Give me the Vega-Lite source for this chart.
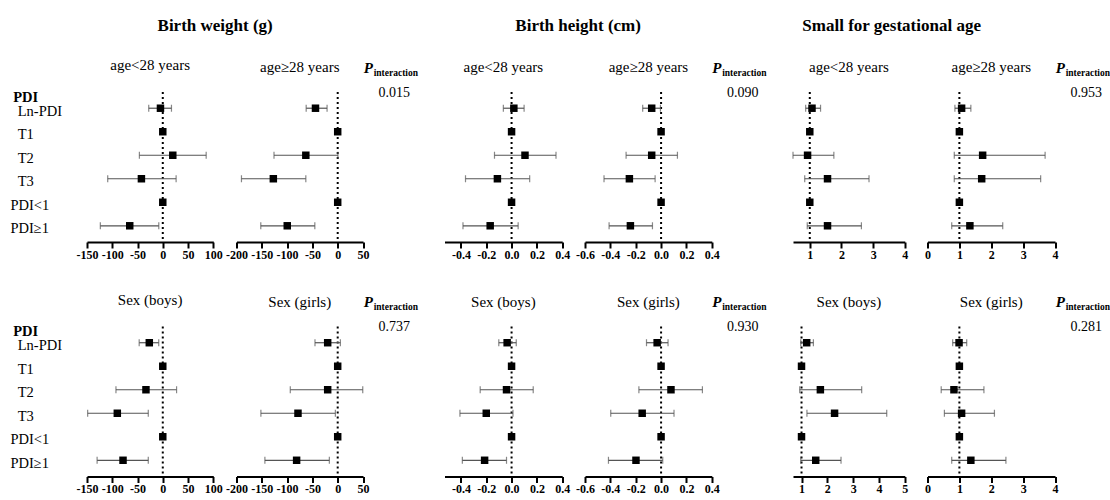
{
  "$schema": "https://vega.github.io/schema/vega-lite/v6.json",
  "padding": {"left": 10, "top": 16, "right": 0, "bottom": 2},
  "config": {
    "view": {"stroke": null},
    "font": "Liberation Serif",
    "title": {"font": "Liberation Serif", "fontSize": 15, "fontWeight": "normal", "color": "black", "offset": 16, "anchor": "middle", "frame": "group"},
    "text": {"font": "Liberation Serif"},
    "axis": {"labelFont": "Liberation Serif", "titleFont": "Liberation Serif", "labelOverlap": false, "labelBound": false},
    "axisQuantitative": {"labelOverlap": false},
    "axisBottom": {"labelOverlap": false},
    "axisX": {"domainColor": "black", "domainWidth": 2, "tickColor": "black", "tickWidth": 2, "tickSize": 6, "labelFontWeight": "bold", "labelFontSize": 12, "labelColor": "black", "labelPadding": 1, "labelFlush": false, "labelOverlap": false, "grid": false}
  },
  "datasets": {
    "forest": [
      {"panel": "BW|age<28", "row": "Ln-PDI", "est": -4.6, "lo": -27.8, "hi": 17.2},
      {"panel": "BW|age<28", "row": "T1", "est": 0},
      {"panel": "BW|age<28", "row": "T2", "est": 19.8, "lo": -46.3, "hi": 85.9},
      {"panel": "BW|age<28", "row": "T3", "est": -42.3, "lo": -109, "hi": 26.4},
      {"panel": "BW|age<28", "row": "PDI<1", "est": 0},
      {"panel": "BW|age<28", "row": "PDI≥1", "est": -65.4, "lo": -123.6, "hi": -7.9},
      {"panel": "BW|age≥28", "row": "Ln-PDI", "est": -43.9, "lo": -62.3, "hi": -21},
      {"panel": "BW|age≥28", "row": "T1", "est": 0},
      {"panel": "BW|age≥28", "row": "T2", "est": -63, "lo": -125.9, "hi": 0.5},
      {"panel": "BW|age≥28", "row": "T3", "est": -127.2, "lo": -190.2, "hi": -63},
      {"panel": "BW|age≥28", "row": "PDI<1", "est": 0},
      {"panel": "BW|age≥28", "row": "PDI≥1", "est": -99.7, "lo": -152, "hi": -45.2},
      {"panel": "BH|age<28", "row": "Ln-PDI", "est": 0.018, "lo": -0.065, "hi": 0.099},
      {"panel": "BH|age<28", "row": "T1", "est": 0},
      {"panel": "BH|age<28", "row": "T2", "est": 0.106, "lo": -0.135, "hi": 0.351},
      {"panel": "BH|age<28", "row": "T3", "est": -0.112, "lo": -0.364, "hi": 0.143},
      {"panel": "BH|age<28", "row": "PDI<1", "est": 0},
      {"panel": "BH|age<28", "row": "PDI≥1", "est": -0.169, "lo": -0.384, "hi": 0.052},
      {"panel": "BH|age≥28", "row": "Ln-PDI", "est": -0.074, "lo": -0.145, "hi": -0.005},
      {"panel": "BH|age≥28", "row": "T1", "est": 0},
      {"panel": "BH|age≥28", "row": "T2", "est": -0.074, "lo": -0.276, "hi": 0.129},
      {"panel": "BH|age≥28", "row": "T3", "est": -0.25, "lo": -0.45, "hi": -0.047},
      {"panel": "BH|age≥28", "row": "PDI<1", "est": 0},
      {"panel": "BH|age≥28", "row": "PDI≥1", "est": -0.242, "lo": -0.41, "hi": -0.068},
      {"panel": "SGA|age<28", "row": "Ln-PDI", "est": 1.07, "lo": 0.87, "hi": 1.34},
      {"panel": "SGA|age<28", "row": "T1", "est": 1},
      {"panel": "SGA|age<28", "row": "T2", "est": 0.93, "lo": 0.47, "hi": 1.76},
      {"panel": "SGA|age<28", "row": "T3", "est": 1.56, "lo": 0.84, "hi": 2.87},
      {"panel": "SGA|age<28", "row": "PDI<1", "est": 1},
      {"panel": "SGA|age<28", "row": "PDI≥1", "est": 1.56, "lo": 0.92, "hi": 2.63},
      {"panel": "SGA|age≥28", "row": "Ln-PDI", "est": 1.07, "lo": 0.86, "hi": 1.36},
      {"panel": "SGA|age≥28", "row": "T1", "est": 1},
      {"panel": "SGA|age≥28", "row": "T2", "est": 1.73, "lo": 0.84, "hi": 3.69},
      {"panel": "SGA|age≥28", "row": "T3", "est": 1.7, "lo": 0.84, "hi": 3.55},
      {"panel": "SGA|age≥28", "row": "PDI<1", "est": 1},
      {"panel": "SGA|age≥28", "row": "PDI≥1", "est": 1.33, "lo": 0.76, "hi": 2.36},
      {"panel": "BW|boys", "row": "Ln-PDI", "est": -26.7, "lo": -46.7, "hi": -8},
      {"panel": "BW|boys", "row": "T1", "est": 0},
      {"panel": "BW|boys", "row": "T2", "est": -33.3, "lo": -92.7, "hi": 27.3},
      {"panel": "BW|boys", "row": "T3", "est": -90, "lo": -148.7, "hi": -28.7},
      {"panel": "BW|boys", "row": "PDI<1", "est": 0},
      {"panel": "BW|boys", "row": "PDI≥1", "est": -78.7, "lo": -130, "hi": -28.7},
      {"panel": "BW|girls", "row": "Ln-PDI", "est": -19.8, "lo": -44.9, "hi": 5.3},
      {"panel": "BW|girls", "row": "T1", "est": 0},
      {"panel": "BW|girls", "row": "T2", "est": -19.8, "lo": -93.7, "hi": 49.5},
      {"panel": "BW|girls", "row": "T3", "est": -78.5, "lo": -151.8, "hi": -4.6},
      {"panel": "BW|girls", "row": "PDI<1", "est": 0},
      {"panel": "BW|girls", "row": "PDI≥1", "est": -81.2, "lo": -143.9, "hi": -16.5},
      {"panel": "BH|boys", "row": "Ln-PDI", "est": -0.035, "lo": -0.101, "hi": 0.037},
      {"panel": "BH|boys", "row": "T1", "est": 0},
      {"panel": "BH|boys", "row": "T2", "est": -0.04, "lo": -0.248, "hi": 0.171},
      {"panel": "BH|boys", "row": "T3", "est": -0.2, "lo": -0.408, "hi": 0.011},
      {"panel": "BH|boys", "row": "PDI<1", "est": 0},
      {"panel": "BH|boys", "row": "PDI≥1", "est": -0.213, "lo": -0.389, "hi": -0.04},
      {"panel": "BH|girls", "row": "Ln-PDI", "est": -0.031, "lo": -0.115, "hi": 0.055},
      {"panel": "BH|girls", "row": "T1", "est": 0},
      {"panel": "BH|girls", "row": "T2", "est": 0.078, "lo": -0.175, "hi": 0.326},
      {"panel": "BH|girls", "row": "T3", "est": -0.149, "lo": -0.397, "hi": 0.102},
      {"panel": "BH|girls", "row": "PDI<1", "est": 0},
      {"panel": "BH|girls", "row": "PDI≥1", "est": -0.198, "lo": -0.415, "hi": 0.013},
      {"panel": "SGA|boys", "row": "Ln-PDI", "est": 1.2, "lo": 0.97, "hi": 1.46},
      {"panel": "SGA|boys", "row": "T1", "est": 1},
      {"panel": "SGA|boys", "row": "T2", "est": 1.73, "lo": 0.93, "hi": 3.33},
      {"panel": "SGA|boys", "row": "T3", "est": 2.28, "lo": 1.21, "hi": 4.3},
      {"panel": "SGA|boys", "row": "PDI<1", "est": 1},
      {"panel": "SGA|boys", "row": "PDI≥1", "est": 1.55, "lo": 0.97, "hi": 2.53},
      {"panel": "SGA|girls", "row": "Ln-PDI", "est": 0.99, "lo": 0.79, "hi": 1.23},
      {"panel": "SGA|girls", "row": "T1", "est": 1},
      {"panel": "SGA|girls", "row": "T2", "est": 0.83, "lo": 0.43, "hi": 1.77},
      {"panel": "SGA|girls", "row": "T3", "est": 1.07, "lo": 0.53, "hi": 2.1},
      {"panel": "SGA|girls", "row": "PDI<1", "est": 1},
      {"panel": "SGA|girls", "row": "PDI≥1", "est": 1.36, "lo": 0.76, "hi": 2.46}
    ]
  },
  "columns": 9,
  "align": "each",
  "bounds": "flush",
  "spacing": {"row": 84.5, "column": 22.5},
  "concat": [
    {
      "width": 126.3, "height": 150,
      "title": {"text": "age<28 years"},
      "layer": [
        {"data": {"values": [{"ref": 0}]}, "mark": {"type": "rule", "color": "black", "strokeWidth": 2, "strokeDash": [2, 3]},
         "encoding": {"x": {"field": "ref", "type": "quantitative", "title": null, "scale": {"domain": [-150, 100], "nice": false, "zero": false}, "axis": {"values": [-150, -100, -50, 0, 50, 100], "labelOverlap": false, "labelExpr": "(datum.value < 0 ? '-' : '') + format(abs(datum.value), 'd')"}}}},
        {"data": {"name": "forest"}, "transform": [{"filter": "datum.panel === 'BW|age<28'"}],
         "encoding": {"y": {"field": "row", "type": "nominal", "scale": {"type": "point", "domain": ["Ln-PDI", "T1", "T2", "T3", "PDI<1", "PDI≥1"], "padding": 0.69},
           "axis": {"domain": false, "ticks": false, "tickSize": 0, "labelAlign": "left", "labelBaseline": "middle", "labelPadding": 77, "labelOffset": 3, "labelFontSize": 14.5, "labelColor": "black", "labelExpr": "(datum.value == 'PDI<1' || datum.value == 'PDI≥1') ? datum.value : '\u200b\u00a0\u00a0' + datum.value", "title": "PDI", "titleAngle": 0, "titleAlign": "left", "titleBaseline": "middle", "titleX": -74.3, "titleY": 5, "titleFontWeight": "bold", "titleFontSize": 14.5, "titleColor": "black"}}},
         "layer": [
           {"transform": [{"filter": "isValid(datum.lo)"}], "mark": {"type": "rule", "color": "#555", "strokeWidth": 1.2}, "encoding": {"x": {"field": "lo", "type": "quantitative", "title": null, "scale": {"domain": [-150, 100], "nice": false, "zero": false}, "axis": {"values": [-150, -100, -50, 0, 50, 100], "labelOverlap": false, "labelExpr": "(datum.value < 0 ? '-' : '') + format(abs(datum.value), 'd')"}}, "x2": {"field": "hi"}}},
           {"transform": [{"filter": "isValid(datum.lo)"}], "mark": {"type": "tick", "orient": "vertical", "color": "#555", "thickness": 1.2, "size": 7}, "encoding": {"x": {"field": "lo", "type": "quantitative", "title": null, "scale": {"domain": [-150, 100], "nice": false, "zero": false}, "axis": {"values": [-150, -100, -50, 0, 50, 100], "labelOverlap": false, "labelExpr": "(datum.value < 0 ? '-' : '') + format(abs(datum.value), 'd')"}}}},
           {"transform": [{"filter": "isValid(datum.hi)"}], "mark": {"type": "tick", "orient": "vertical", "color": "#555", "thickness": 1.2, "size": 7}, "encoding": {"x": {"field": "hi", "type": "quantitative", "title": null, "scale": {"domain": [-150, 100], "nice": false, "zero": false}, "axis": {"values": [-150, -100, -50, 0, 50, 100], "labelOverlap": false, "labelExpr": "(datum.value < 0 ? '-' : '') + format(abs(datum.value), 'd')"}}}},
           {"mark": {"type": "square", "color": "black", "filled": true, "opacity": 1, "size": 56}, "encoding": {"x": {"field": "est", "type": "quantitative", "title": null, "scale": {"domain": [-150, 100], "nice": false, "zero": false}, "axis": {"values": [-150, -100, -50, 0, 50, 100], "labelOverlap": false, "labelExpr": "(datum.value < 0 ? '-' : '') + format(abs(datum.value), 'd')"}}}}
         ]}
      ]
    },
    {
      "width": 126.5, "height": 150,
      "title": {"text": "age≥28 years"},
      "layer": [
        {"data": {"values": [{"ref": 0}]}, "mark": {"type": "rule", "color": "black", "strokeWidth": 2, "strokeDash": [2, 3]},
         "encoding": {"x": {"field": "ref", "type": "quantitative", "title": null, "scale": {"domain": [-200, 50], "nice": false, "zero": false}, "axis": {"values": [-200, -150, -100, -50, 0, 50], "labelOverlap": false, "labelExpr": "(datum.value < 0 ? '-' : '') + format(abs(datum.value), 'd')"}}}},
        {"data": {"name": "forest"}, "transform": [{"filter": "datum.panel === 'BW|age≥28'"}],
         "encoding": {"y": {"field": "row", "type": "nominal", "scale": {"type": "point", "domain": ["Ln-PDI", "T1", "T2", "T3", "PDI<1", "PDI≥1"], "padding": 0.69}, "axis": null}},
         "layer": [
           {"transform": [{"filter": "isValid(datum.lo)"}], "mark": {"type": "rule", "color": "#555", "strokeWidth": 1.2}, "encoding": {"x": {"field": "lo", "type": "quantitative", "title": null, "scale": {"domain": [-200, 50], "nice": false, "zero": false}, "axis": {"values": [-200, -150, -100, -50, 0, 50], "labelOverlap": false, "labelExpr": "(datum.value < 0 ? '-' : '') + format(abs(datum.value), 'd')"}}, "x2": {"field": "hi"}}},
           {"transform": [{"filter": "isValid(datum.lo)"}], "mark": {"type": "tick", "orient": "vertical", "color": "#555", "thickness": 1.2, "size": 7}, "encoding": {"x": {"field": "lo", "type": "quantitative", "title": null, "scale": {"domain": [-200, 50], "nice": false, "zero": false}, "axis": {"values": [-200, -150, -100, -50, 0, 50], "labelOverlap": false, "labelExpr": "(datum.value < 0 ? '-' : '') + format(abs(datum.value), 'd')"}}}},
           {"transform": [{"filter": "isValid(datum.hi)"}], "mark": {"type": "tick", "orient": "vertical", "color": "#555", "thickness": 1.2, "size": 7}, "encoding": {"x": {"field": "hi", "type": "quantitative", "title": null, "scale": {"domain": [-200, 50], "nice": false, "zero": false}, "axis": {"values": [-200, -150, -100, -50, 0, 50], "labelOverlap": false, "labelExpr": "(datum.value < 0 ? '-' : '') + format(abs(datum.value), 'd')"}}}},
           {"mark": {"type": "square", "color": "black", "filled": true, "opacity": 1, "size": 56}, "encoding": {"x": {"field": "est", "type": "quantitative", "title": null, "scale": {"domain": [-200, 50], "nice": false, "zero": false}, "axis": {"values": [-200, -150, -100, -50, 0, 50], "labelOverlap": false, "labelExpr": "(datum.value < 0 ? '-' : '') + format(abs(datum.value), 'd')"}}}}
         ]}
      ]
    },
    {
      "width": 35.3, "height": 1,
      "title": {"text": "Birth weight (g)", "fontSize": 17, "fontWeight": "bold", "dx": -188.5, "offset": 26},
      "data": {"values": [{"p": "0.015"}]},
      "layer": [
        {"mark": {"type": "text", "align": "center", "baseline": "middle", "dx": -9.5, "fontSize": 14, "color": "black", "font": "Liberation Serif"}, "encoding": {"text": {"field": "p", "type": "nominal"}}},
        {"mark": {"type": "text", "text": "P", "align": "left", "baseline": "middle", "dx": -40, "dy": -25, "fontSize": 15, "fontWeight": "bold", "fontStyle": "italic", "color": "black", "font": "Liberation Serif"}, "encoding": {}},
        {"mark": {"type": "text", "text": "interaction", "align": "left", "baseline": "middle", "dx": -30, "dy": -20, "fontSize": 9.5, "fontWeight": "bold", "color": "black", "font": "Liberation Serif"}, "encoding": {}}
      ]
    },
    {
      "width": 117.7, "height": 150,
      "title": {"text": "age<28 years"},
      "layer": [
        {"data": {"values": [{"ref": 0}]}, "mark": {"type": "rule", "color": "black", "strokeWidth": 2, "strokeDash": [2, 3]},
         "encoding": {"x": {"field": "ref", "type": "quantitative", "title": null, "scale": {"domain": [-0.53, 0.4], "nice": false, "zero": false}, "axis": {"values": [-0.4, -0.2, 0, 0.2, 0.4], "labelOverlap": false, "labelExpr": "(datum.value < 0 ? '-' : '') + format(abs(datum.value), '.1f')"}}}},
        {"data": {"name": "forest"}, "transform": [{"filter": "datum.panel === 'BH|age<28'"}],
         "encoding": {"y": {"field": "row", "type": "nominal", "scale": {"type": "point", "domain": ["Ln-PDI", "T1", "T2", "T3", "PDI<1", "PDI≥1"], "padding": 0.69}, "axis": null}},
         "layer": [
           {"transform": [{"filter": "isValid(datum.lo)"}], "mark": {"type": "rule", "color": "#555", "strokeWidth": 1.2}, "encoding": {"x": {"field": "lo", "type": "quantitative", "title": null, "scale": {"domain": [-0.53, 0.4], "nice": false, "zero": false}, "axis": {"values": [-0.4, -0.2, 0, 0.2, 0.4], "labelOverlap": false, "labelExpr": "(datum.value < 0 ? '-' : '') + format(abs(datum.value), '.1f')"}}, "x2": {"field": "hi"}}},
           {"transform": [{"filter": "isValid(datum.lo)"}], "mark": {"type": "tick", "orient": "vertical", "color": "#555", "thickness": 1.2, "size": 7}, "encoding": {"x": {"field": "lo", "type": "quantitative", "title": null, "scale": {"domain": [-0.53, 0.4], "nice": false, "zero": false}, "axis": {"values": [-0.4, -0.2, 0, 0.2, 0.4], "labelOverlap": false, "labelExpr": "(datum.value < 0 ? '-' : '') + format(abs(datum.value), '.1f')"}}}},
           {"transform": [{"filter": "isValid(datum.hi)"}], "mark": {"type": "tick", "orient": "vertical", "color": "#555", "thickness": 1.2, "size": 7}, "encoding": {"x": {"field": "hi", "type": "quantitative", "title": null, "scale": {"domain": [-0.53, 0.4], "nice": false, "zero": false}, "axis": {"values": [-0.4, -0.2, 0, 0.2, 0.4], "labelOverlap": false, "labelExpr": "(datum.value < 0 ? '-' : '') + format(abs(datum.value), '.1f')"}}}},
           {"mark": {"type": "square", "color": "black", "filled": true, "opacity": 1, "size": 56}, "encoding": {"x": {"field": "est", "type": "quantitative", "title": null, "scale": {"domain": [-0.53, 0.4], "nice": false, "zero": false}, "axis": {"values": [-0.4, -0.2, 0, 0.2, 0.4], "labelOverlap": false, "labelExpr": "(datum.value < 0 ? '-' : '') + format(abs(datum.value), '.1f')"}}}}
         ]}
      ]
    },
    {
      "width": 126.8, "height": 150,
      "title": {"text": "age≥28 years"},
      "layer": [
        {"data": {"values": [{"ref": 0}]}, "mark": {"type": "rule", "color": "black", "strokeWidth": 2, "strokeDash": [2, 3]},
         "encoding": {"x": {"field": "ref", "type": "quantitative", "title": null, "scale": {"domain": [-0.6, 0.4], "nice": false, "zero": false}, "axis": {"values": [-0.6, -0.4, -0.2, 0, 0.2, 0.4], "labelOverlap": false, "labelExpr": "(datum.value < 0 ? '-' : '') + format(abs(datum.value), '.1f')"}}}},
        {"data": {"name": "forest"}, "transform": [{"filter": "datum.panel === 'BH|age≥28'"}],
         "encoding": {"y": {"field": "row", "type": "nominal", "scale": {"type": "point", "domain": ["Ln-PDI", "T1", "T2", "T3", "PDI<1", "PDI≥1"], "padding": 0.69}, "axis": null}},
         "layer": [
           {"transform": [{"filter": "isValid(datum.lo)"}], "mark": {"type": "rule", "color": "#555", "strokeWidth": 1.2}, "encoding": {"x": {"field": "lo", "type": "quantitative", "title": null, "scale": {"domain": [-0.6, 0.4], "nice": false, "zero": false}, "axis": {"values": [-0.6, -0.4, -0.2, 0, 0.2, 0.4], "labelOverlap": false, "labelExpr": "(datum.value < 0 ? '-' : '') + format(abs(datum.value), '.1f')"}}, "x2": {"field": "hi"}}},
           {"transform": [{"filter": "isValid(datum.lo)"}], "mark": {"type": "tick", "orient": "vertical", "color": "#555", "thickness": 1.2, "size": 7}, "encoding": {"x": {"field": "lo", "type": "quantitative", "title": null, "scale": {"domain": [-0.6, 0.4], "nice": false, "zero": false}, "axis": {"values": [-0.6, -0.4, -0.2, 0, 0.2, 0.4], "labelOverlap": false, "labelExpr": "(datum.value < 0 ? '-' : '') + format(abs(datum.value), '.1f')"}}}},
           {"transform": [{"filter": "isValid(datum.hi)"}], "mark": {"type": "tick", "orient": "vertical", "color": "#555", "thickness": 1.2, "size": 7}, "encoding": {"x": {"field": "hi", "type": "quantitative", "title": null, "scale": {"domain": [-0.6, 0.4], "nice": false, "zero": false}, "axis": {"values": [-0.6, -0.4, -0.2, 0, 0.2, 0.4], "labelOverlap": false, "labelExpr": "(datum.value < 0 ? '-' : '') + format(abs(datum.value), '.1f')"}}}},
           {"mark": {"type": "square", "color": "black", "filled": true, "opacity": 1, "size": 56}, "encoding": {"x": {"field": "est", "type": "quantitative", "title": null, "scale": {"domain": [-0.6, 0.4], "nice": false, "zero": false}, "axis": {"values": [-0.6, -0.4, -0.2, 0, 0.2, 0.4], "labelOverlap": false, "labelExpr": "(datum.value < 0 ? '-' : '') + format(abs(datum.value), '.1f')"}}}}
         ]}
      ]
    },
    {
      "width": 35.3, "height": 1,
      "title": {"text": "Birth height (cm)", "fontSize": 17, "fontWeight": "bold", "dx": -174, "offset": 26},
      "data": {"values": [{"p": "0.090"}]},
      "layer": [
        {"mark": {"type": "text", "align": "center", "baseline": "middle", "dx": -9.5, "fontSize": 14, "color": "black", "font": "Liberation Serif"}, "encoding": {"text": {"field": "p", "type": "nominal"}}},
        {"mark": {"type": "text", "text": "P", "align": "left", "baseline": "middle", "dx": -40, "dy": -25, "fontSize": 15, "fontWeight": "bold", "fontStyle": "italic", "color": "black", "font": "Liberation Serif"}, "encoding": {}},
        {"mark": {"type": "text", "text": "interaction", "align": "left", "baseline": "middle", "dx": -30, "dy": -20, "fontSize": 9.5, "fontWeight": "bold", "color": "black", "font": "Liberation Serif"}, "encoding": {}}
      ]
    },
    {
      "width": 111.8, "height": 150,
      "title": {"text": "age<28 years"},
      "layer": [
        {"data": {"values": [{"ref": 1}]}, "mark": {"type": "rule", "color": "black", "strokeWidth": 2, "strokeDash": [2, 3]},
         "encoding": {"x": {"field": "ref", "type": "quantitative", "title": null, "scale": {"domain": [0.47, 4], "nice": false, "zero": false}, "axis": {"values": [1, 2, 3, 4], "labelOverlap": false, "format": "d"}}}},
        {"data": {"name": "forest"}, "transform": [{"filter": "datum.panel === 'SGA|age<28'"}],
         "encoding": {"y": {"field": "row", "type": "nominal", "scale": {"type": "point", "domain": ["Ln-PDI", "T1", "T2", "T3", "PDI<1", "PDI≥1"], "padding": 0.69}, "axis": null}},
         "layer": [
           {"transform": [{"filter": "isValid(datum.lo)"}], "mark": {"type": "rule", "color": "#555", "strokeWidth": 1.2}, "encoding": {"x": {"field": "lo", "type": "quantitative", "title": null, "scale": {"domain": [0.47, 4], "nice": false, "zero": false}, "axis": {"values": [1, 2, 3, 4], "labelOverlap": false, "format": "d"}}, "x2": {"field": "hi"}}},
           {"transform": [{"filter": "isValid(datum.lo)"}], "mark": {"type": "tick", "orient": "vertical", "color": "#555", "thickness": 1.2, "size": 7}, "encoding": {"x": {"field": "lo", "type": "quantitative", "title": null, "scale": {"domain": [0.47, 4], "nice": false, "zero": false}, "axis": {"values": [1, 2, 3, 4], "labelOverlap": false, "format": "d"}}}},
           {"transform": [{"filter": "isValid(datum.hi)"}], "mark": {"type": "tick", "orient": "vertical", "color": "#555", "thickness": 1.2, "size": 7}, "encoding": {"x": {"field": "hi", "type": "quantitative", "title": null, "scale": {"domain": [0.47, 4], "nice": false, "zero": false}, "axis": {"values": [1, 2, 3, 4], "labelOverlap": false, "format": "d"}}}},
           {"mark": {"type": "square", "color": "black", "filled": true, "opacity": 1, "size": 56}, "encoding": {"x": {"field": "est", "type": "quantitative", "title": null, "scale": {"domain": [0.47, 4], "nice": false, "zero": false}, "axis": {"values": [1, 2, 3, 4], "labelOverlap": false, "format": "d"}}}}
         ]}
      ]
    },
    {
      "width": 127.5, "height": 150,
      "title": {"text": "age≥28 years"},
      "layer": [
        {"data": {"values": [{"ref": 1}]}, "mark": {"type": "rule", "color": "black", "strokeWidth": 2, "strokeDash": [2, 3]},
         "encoding": {"x": {"field": "ref", "type": "quantitative", "title": null, "scale": {"domain": [0, 4], "nice": false, "zero": false}, "axis": {"values": [0, 1, 2, 3, 4], "labelOverlap": false, "format": "d"}}}},
        {"data": {"name": "forest"}, "transform": [{"filter": "datum.panel === 'SGA|age≥28'"}],
         "encoding": {"y": {"field": "row", "type": "nominal", "scale": {"type": "point", "domain": ["Ln-PDI", "T1", "T2", "T3", "PDI<1", "PDI≥1"], "padding": 0.69}, "axis": null}},
         "layer": [
           {"transform": [{"filter": "isValid(datum.lo)"}], "mark": {"type": "rule", "color": "#555", "strokeWidth": 1.2}, "encoding": {"x": {"field": "lo", "type": "quantitative", "title": null, "scale": {"domain": [0, 4], "nice": false, "zero": false}, "axis": {"values": [0, 1, 2, 3, 4], "labelOverlap": false, "format": "d"}}, "x2": {"field": "hi"}}},
           {"transform": [{"filter": "isValid(datum.lo)"}], "mark": {"type": "tick", "orient": "vertical", "color": "#555", "thickness": 1.2, "size": 7}, "encoding": {"x": {"field": "lo", "type": "quantitative", "title": null, "scale": {"domain": [0, 4], "nice": false, "zero": false}, "axis": {"values": [0, 1, 2, 3, 4], "labelOverlap": false, "format": "d"}}}},
           {"transform": [{"filter": "isValid(datum.hi)"}], "mark": {"type": "tick", "orient": "vertical", "color": "#555", "thickness": 1.2, "size": 7}, "encoding": {"x": {"field": "hi", "type": "quantitative", "title": null, "scale": {"domain": [0, 4], "nice": false, "zero": false}, "axis": {"values": [0, 1, 2, 3, 4], "labelOverlap": false, "format": "d"}}}},
           {"mark": {"type": "square", "color": "black", "filled": true, "opacity": 1, "size": 56}, "encoding": {"x": {"field": "est", "type": "quantitative", "title": null, "scale": {"domain": [0, 4], "nice": false, "zero": false}, "axis": {"values": [0, 1, 2, 3, 4], "labelOverlap": false, "format": "d"}}}}
         ]}
      ]
    },
    {
      "width": 35.3, "height": 1,
      "title": {"text": "Small for gestational age", "fontSize": 17, "fontWeight": "bold", "dx": -204, "offset": 26},
      "data": {"values": [{"p": "0.953"}]},
      "layer": [
        {"mark": {"type": "text", "align": "center", "baseline": "middle", "dx": -9.5, "fontSize": 14, "color": "black", "font": "Liberation Serif"}, "encoding": {"text": {"field": "p", "type": "nominal"}}},
        {"mark": {"type": "text", "text": "P", "align": "left", "baseline": "middle", "dx": -40, "dy": -25, "fontSize": 15, "fontWeight": "bold", "fontStyle": "italic", "color": "black", "font": "Liberation Serif"}, "encoding": {}},
        {"mark": {"type": "text", "text": "interaction", "align": "left", "baseline": "middle", "dx": -30, "dy": -20, "fontSize": 9.5, "fontWeight": "bold", "color": "black", "font": "Liberation Serif"}, "encoding": {}}
      ]
    },
    {
      "width": 126.3, "height": 150,
      "title": {"text": "Sex (boys)"},
      "layer": [
        {"data": {"values": [{"ref": 0}]}, "mark": {"type": "rule", "color": "black", "strokeWidth": 2, "strokeDash": [2, 3]},
         "encoding": {"x": {"field": "ref", "type": "quantitative", "title": null, "scale": {"domain": [-150, 100], "nice": false, "zero": false}, "axis": {"values": [-150, -100, -50, 0, 50, 100], "labelOverlap": false, "labelExpr": "(datum.value < 0 ? '-' : '') + format(abs(datum.value), 'd')"}}}},
        {"data": {"name": "forest"}, "transform": [{"filter": "datum.panel === 'BW|boys'"}],
         "encoding": {"y": {"field": "row", "type": "nominal", "scale": {"type": "point", "domain": ["Ln-PDI", "T1", "T2", "T3", "PDI<1", "PDI≥1"], "padding": 0.69},
           "axis": {"domain": false, "ticks": false, "tickSize": 0, "labelAlign": "left", "labelBaseline": "middle", "labelPadding": 77, "labelOffset": 3, "labelFontSize": 14.5, "labelColor": "black", "labelExpr": "(datum.value == 'PDI<1' || datum.value == 'PDI≥1') ? datum.value : '\u200b\u00a0\u00a0' + datum.value", "title": "PDI", "titleAngle": 0, "titleAlign": "left", "titleBaseline": "middle", "titleX": -74.3, "titleY": 5, "titleFontWeight": "bold", "titleFontSize": 14.5, "titleColor": "black"}}},
         "layer": [
           {"transform": [{"filter": "isValid(datum.lo)"}], "mark": {"type": "rule", "color": "#555", "strokeWidth": 1.2}, "encoding": {"x": {"field": "lo", "type": "quantitative", "title": null, "scale": {"domain": [-150, 100], "nice": false, "zero": false}, "axis": {"values": [-150, -100, -50, 0, 50, 100], "labelOverlap": false, "labelExpr": "(datum.value < 0 ? '-' : '') + format(abs(datum.value), 'd')"}}, "x2": {"field": "hi"}}},
           {"transform": [{"filter": "isValid(datum.lo)"}], "mark": {"type": "tick", "orient": "vertical", "color": "#555", "thickness": 1.2, "size": 7}, "encoding": {"x": {"field": "lo", "type": "quantitative", "title": null, "scale": {"domain": [-150, 100], "nice": false, "zero": false}, "axis": {"values": [-150, -100, -50, 0, 50, 100], "labelOverlap": false, "labelExpr": "(datum.value < 0 ? '-' : '') + format(abs(datum.value), 'd')"}}}},
           {"transform": [{"filter": "isValid(datum.hi)"}], "mark": {"type": "tick", "orient": "vertical", "color": "#555", "thickness": 1.2, "size": 7}, "encoding": {"x": {"field": "hi", "type": "quantitative", "title": null, "scale": {"domain": [-150, 100], "nice": false, "zero": false}, "axis": {"values": [-150, -100, -50, 0, 50, 100], "labelOverlap": false, "labelExpr": "(datum.value < 0 ? '-' : '') + format(abs(datum.value), 'd')"}}}},
           {"mark": {"type": "square", "color": "black", "filled": true, "opacity": 1, "size": 56}, "encoding": {"x": {"field": "est", "type": "quantitative", "title": null, "scale": {"domain": [-150, 100], "nice": false, "zero": false}, "axis": {"values": [-150, -100, -50, 0, 50, 100], "labelOverlap": false, "labelExpr": "(datum.value < 0 ? '-' : '') + format(abs(datum.value), 'd')"}}}}
         ]}
      ]
    },
    {
      "width": 126.5, "height": 150,
      "title": {"text": "Sex (girls)"},
      "layer": [
        {"data": {"values": [{"ref": 0}]}, "mark": {"type": "rule", "color": "black", "strokeWidth": 2, "strokeDash": [2, 3]},
         "encoding": {"x": {"field": "ref", "type": "quantitative", "title": null, "scale": {"domain": [-200, 50], "nice": false, "zero": false}, "axis": {"values": [-200, -150, -100, -50, 0, 50], "labelOverlap": false, "labelExpr": "(datum.value < 0 ? '-' : '') + format(abs(datum.value), 'd')"}}}},
        {"data": {"name": "forest"}, "transform": [{"filter": "datum.panel === 'BW|girls'"}],
         "encoding": {"y": {"field": "row", "type": "nominal", "scale": {"type": "point", "domain": ["Ln-PDI", "T1", "T2", "T3", "PDI<1", "PDI≥1"], "padding": 0.69}, "axis": null}},
         "layer": [
           {"transform": [{"filter": "isValid(datum.lo)"}], "mark": {"type": "rule", "color": "#555", "strokeWidth": 1.2}, "encoding": {"x": {"field": "lo", "type": "quantitative", "title": null, "scale": {"domain": [-200, 50], "nice": false, "zero": false}, "axis": {"values": [-200, -150, -100, -50, 0, 50], "labelOverlap": false, "labelExpr": "(datum.value < 0 ? '-' : '') + format(abs(datum.value), 'd')"}}, "x2": {"field": "hi"}}},
           {"transform": [{"filter": "isValid(datum.lo)"}], "mark": {"type": "tick", "orient": "vertical", "color": "#555", "thickness": 1.2, "size": 7}, "encoding": {"x": {"field": "lo", "type": "quantitative", "title": null, "scale": {"domain": [-200, 50], "nice": false, "zero": false}, "axis": {"values": [-200, -150, -100, -50, 0, 50], "labelOverlap": false, "labelExpr": "(datum.value < 0 ? '-' : '') + format(abs(datum.value), 'd')"}}}},
           {"transform": [{"filter": "isValid(datum.hi)"}], "mark": {"type": "tick", "orient": "vertical", "color": "#555", "thickness": 1.2, "size": 7}, "encoding": {"x": {"field": "hi", "type": "quantitative", "title": null, "scale": {"domain": [-200, 50], "nice": false, "zero": false}, "axis": {"values": [-200, -150, -100, -50, 0, 50], "labelOverlap": false, "labelExpr": "(datum.value < 0 ? '-' : '') + format(abs(datum.value), 'd')"}}}},
           {"mark": {"type": "square", "color": "black", "filled": true, "opacity": 1, "size": 56}, "encoding": {"x": {"field": "est", "type": "quantitative", "title": null, "scale": {"domain": [-200, 50], "nice": false, "zero": false}, "axis": {"values": [-200, -150, -100, -50, 0, 50], "labelOverlap": false, "labelExpr": "(datum.value < 0 ? '-' : '') + format(abs(datum.value), 'd')"}}}}
         ]}
      ]
    },
    {
      "width": 35.3, "height": 1,
      "data": {"values": [{"p": "0.737"}]},
      "layer": [
        {"mark": {"type": "text", "align": "center", "baseline": "middle", "dx": -9.5, "fontSize": 14, "color": "black", "font": "Liberation Serif"}, "encoding": {"text": {"field": "p", "type": "nominal"}}},
        {"mark": {"type": "text", "text": "P", "align": "left", "baseline": "middle", "dx": -40, "dy": -25, "fontSize": 15, "fontWeight": "bold", "fontStyle": "italic", "color": "black", "font": "Liberation Serif"}, "encoding": {}},
        {"mark": {"type": "text", "text": "interaction", "align": "left", "baseline": "middle", "dx": -30, "dy": -20, "fontSize": 9.5, "fontWeight": "bold", "color": "black", "font": "Liberation Serif"}, "encoding": {}}
      ]
    },
    {
      "width": 117.7, "height": 150,
      "title": {"text": "Sex (boys)"},
      "layer": [
        {"data": {"values": [{"ref": 0}]}, "mark": {"type": "rule", "color": "black", "strokeWidth": 2, "strokeDash": [2, 3]},
         "encoding": {"x": {"field": "ref", "type": "quantitative", "title": null, "scale": {"domain": [-0.53, 0.4], "nice": false, "zero": false}, "axis": {"values": [-0.4, -0.2, 0, 0.2, 0.4], "labelOverlap": false, "labelExpr": "(datum.value < 0 ? '-' : '') + format(abs(datum.value), '.1f')"}}}},
        {"data": {"name": "forest"}, "transform": [{"filter": "datum.panel === 'BH|boys'"}],
         "encoding": {"y": {"field": "row", "type": "nominal", "scale": {"type": "point", "domain": ["Ln-PDI", "T1", "T2", "T3", "PDI<1", "PDI≥1"], "padding": 0.69}, "axis": null}},
         "layer": [
           {"transform": [{"filter": "isValid(datum.lo)"}], "mark": {"type": "rule", "color": "#555", "strokeWidth": 1.2}, "encoding": {"x": {"field": "lo", "type": "quantitative", "title": null, "scale": {"domain": [-0.53, 0.4], "nice": false, "zero": false}, "axis": {"values": [-0.4, -0.2, 0, 0.2, 0.4], "labelOverlap": false, "labelExpr": "(datum.value < 0 ? '-' : '') + format(abs(datum.value), '.1f')"}}, "x2": {"field": "hi"}}},
           {"transform": [{"filter": "isValid(datum.lo)"}], "mark": {"type": "tick", "orient": "vertical", "color": "#555", "thickness": 1.2, "size": 7}, "encoding": {"x": {"field": "lo", "type": "quantitative", "title": null, "scale": {"domain": [-0.53, 0.4], "nice": false, "zero": false}, "axis": {"values": [-0.4, -0.2, 0, 0.2, 0.4], "labelOverlap": false, "labelExpr": "(datum.value < 0 ? '-' : '') + format(abs(datum.value), '.1f')"}}}},
           {"transform": [{"filter": "isValid(datum.hi)"}], "mark": {"type": "tick", "orient": "vertical", "color": "#555", "thickness": 1.2, "size": 7}, "encoding": {"x": {"field": "hi", "type": "quantitative", "title": null, "scale": {"domain": [-0.53, 0.4], "nice": false, "zero": false}, "axis": {"values": [-0.4, -0.2, 0, 0.2, 0.4], "labelOverlap": false, "labelExpr": "(datum.value < 0 ? '-' : '') + format(abs(datum.value), '.1f')"}}}},
           {"mark": {"type": "square", "color": "black", "filled": true, "opacity": 1, "size": 56}, "encoding": {"x": {"field": "est", "type": "quantitative", "title": null, "scale": {"domain": [-0.53, 0.4], "nice": false, "zero": false}, "axis": {"values": [-0.4, -0.2, 0, 0.2, 0.4], "labelOverlap": false, "labelExpr": "(datum.value < 0 ? '-' : '') + format(abs(datum.value), '.1f')"}}}}
         ]}
      ]
    },
    {
      "width": 126.8, "height": 150,
      "title": {"text": "Sex (girls)"},
      "layer": [
        {"data": {"values": [{"ref": 0}]}, "mark": {"type": "rule", "color": "black", "strokeWidth": 2, "strokeDash": [2, 3]},
         "encoding": {"x": {"field": "ref", "type": "quantitative", "title": null, "scale": {"domain": [-0.6, 0.4], "nice": false, "zero": false}, "axis": {"values": [-0.6, -0.4, -0.2, 0, 0.2, 0.4], "labelOverlap": false, "labelExpr": "(datum.value < 0 ? '-' : '') + format(abs(datum.value), '.1f')"}}}},
        {"data": {"name": "forest"}, "transform": [{"filter": "datum.panel === 'BH|girls'"}],
         "encoding": {"y": {"field": "row", "type": "nominal", "scale": {"type": "point", "domain": ["Ln-PDI", "T1", "T2", "T3", "PDI<1", "PDI≥1"], "padding": 0.69}, "axis": null}},
         "layer": [
           {"transform": [{"filter": "isValid(datum.lo)"}], "mark": {"type": "rule", "color": "#555", "strokeWidth": 1.2}, "encoding": {"x": {"field": "lo", "type": "quantitative", "title": null, "scale": {"domain": [-0.6, 0.4], "nice": false, "zero": false}, "axis": {"values": [-0.6, -0.4, -0.2, 0, 0.2, 0.4], "labelOverlap": false, "labelExpr": "(datum.value < 0 ? '-' : '') + format(abs(datum.value), '.1f')"}}, "x2": {"field": "hi"}}},
           {"transform": [{"filter": "isValid(datum.lo)"}], "mark": {"type": "tick", "orient": "vertical", "color": "#555", "thickness": 1.2, "size": 7}, "encoding": {"x": {"field": "lo", "type": "quantitative", "title": null, "scale": {"domain": [-0.6, 0.4], "nice": false, "zero": false}, "axis": {"values": [-0.6, -0.4, -0.2, 0, 0.2, 0.4], "labelOverlap": false, "labelExpr": "(datum.value < 0 ? '-' : '') + format(abs(datum.value), '.1f')"}}}},
           {"transform": [{"filter": "isValid(datum.hi)"}], "mark": {"type": "tick", "orient": "vertical", "color": "#555", "thickness": 1.2, "size": 7}, "encoding": {"x": {"field": "hi", "type": "quantitative", "title": null, "scale": {"domain": [-0.6, 0.4], "nice": false, "zero": false}, "axis": {"values": [-0.6, -0.4, -0.2, 0, 0.2, 0.4], "labelOverlap": false, "labelExpr": "(datum.value < 0 ? '-' : '') + format(abs(datum.value), '.1f')"}}}},
           {"mark": {"type": "square", "color": "black", "filled": true, "opacity": 1, "size": 56}, "encoding": {"x": {"field": "est", "type": "quantitative", "title": null, "scale": {"domain": [-0.6, 0.4], "nice": false, "zero": false}, "axis": {"values": [-0.6, -0.4, -0.2, 0, 0.2, 0.4], "labelOverlap": false, "labelExpr": "(datum.value < 0 ? '-' : '') + format(abs(datum.value), '.1f')"}}}}
         ]}
      ]
    },
    {
      "width": 35.3, "height": 1,
      "data": {"values": [{"p": "0.930"}]},
      "layer": [
        {"mark": {"type": "text", "align": "center", "baseline": "middle", "dx": -9.5, "fontSize": 14, "color": "black", "font": "Liberation Serif"}, "encoding": {"text": {"field": "p", "type": "nominal"}}},
        {"mark": {"type": "text", "text": "P", "align": "left", "baseline": "middle", "dx": -40, "dy": -25, "fontSize": 15, "fontWeight": "bold", "fontStyle": "italic", "color": "black", "font": "Liberation Serif"}, "encoding": {}},
        {"mark": {"type": "text", "text": "interaction", "align": "left", "baseline": "middle", "dx": -30, "dy": -20, "fontSize": 9.5, "fontWeight": "bold", "color": "black", "font": "Liberation Serif"}, "encoding": {}}
      ]
    },
    {
      "width": 111.8, "height": 150,
      "title": {"text": "Sex (boys)"},
      "layer": [
        {"data": {"values": [{"ref": 1}]}, "mark": {"type": "rule", "color": "black", "strokeWidth": 2, "strokeDash": [2, 3]},
         "encoding": {"x": {"field": "ref", "type": "quantitative", "title": null, "scale": {"domain": [0.67, 5], "nice": false, "zero": false}, "axis": {"values": [1, 2, 3, 4, 5], "labelOverlap": false, "format": "d"}}}},
        {"data": {"name": "forest"}, "transform": [{"filter": "datum.panel === 'SGA|boys'"}],
         "encoding": {"y": {"field": "row", "type": "nominal", "scale": {"type": "point", "domain": ["Ln-PDI", "T1", "T2", "T3", "PDI<1", "PDI≥1"], "padding": 0.69}, "axis": null}},
         "layer": [
           {"transform": [{"filter": "isValid(datum.lo)"}], "mark": {"type": "rule", "color": "#555", "strokeWidth": 1.2}, "encoding": {"x": {"field": "lo", "type": "quantitative", "title": null, "scale": {"domain": [0.67, 5], "nice": false, "zero": false}, "axis": {"values": [1, 2, 3, 4, 5], "labelOverlap": false, "format": "d"}}, "x2": {"field": "hi"}}},
           {"transform": [{"filter": "isValid(datum.lo)"}], "mark": {"type": "tick", "orient": "vertical", "color": "#555", "thickness": 1.2, "size": 7}, "encoding": {"x": {"field": "lo", "type": "quantitative", "title": null, "scale": {"domain": [0.67, 5], "nice": false, "zero": false}, "axis": {"values": [1, 2, 3, 4, 5], "labelOverlap": false, "format": "d"}}}},
           {"transform": [{"filter": "isValid(datum.hi)"}], "mark": {"type": "tick", "orient": "vertical", "color": "#555", "thickness": 1.2, "size": 7}, "encoding": {"x": {"field": "hi", "type": "quantitative", "title": null, "scale": {"domain": [0.67, 5], "nice": false, "zero": false}, "axis": {"values": [1, 2, 3, 4, 5], "labelOverlap": false, "format": "d"}}}},
           {"mark": {"type": "square", "color": "black", "filled": true, "opacity": 1, "size": 56}, "encoding": {"x": {"field": "est", "type": "quantitative", "title": null, "scale": {"domain": [0.67, 5], "nice": false, "zero": false}, "axis": {"values": [1, 2, 3, 4, 5], "labelOverlap": false, "format": "d"}}}}
         ]}
      ]
    },
    {
      "width": 127.5, "height": 150,
      "title": {"text": "Sex (girls)"},
      "layer": [
        {"data": {"values": [{"ref": 1}]}, "mark": {"type": "rule", "color": "black", "strokeWidth": 2, "strokeDash": [2, 3]},
         "encoding": {"x": {"field": "ref", "type": "quantitative", "title": null, "scale": {"domain": [0, 4], "nice": false, "zero": false}, "axis": {"values": [0, 1, 2, 3, 4], "labelOverlap": false, "format": "d"}}}},
        {"data": {"name": "forest"}, "transform": [{"filter": "datum.panel === 'SGA|girls'"}],
         "encoding": {"y": {"field": "row", "type": "nominal", "scale": {"type": "point", "domain": ["Ln-PDI", "T1", "T2", "T3", "PDI<1", "PDI≥1"], "padding": 0.69}, "axis": null}},
         "layer": [
           {"transform": [{"filter": "isValid(datum.lo)"}], "mark": {"type": "rule", "color": "#555", "strokeWidth": 1.2}, "encoding": {"x": {"field": "lo", "type": "quantitative", "title": null, "scale": {"domain": [0, 4], "nice": false, "zero": false}, "axis": {"values": [0, 1, 2, 3, 4], "labelOverlap": false, "format": "d"}}, "x2": {"field": "hi"}}},
           {"transform": [{"filter": "isValid(datum.lo)"}], "mark": {"type": "tick", "orient": "vertical", "color": "#555", "thickness": 1.2, "size": 7}, "encoding": {"x": {"field": "lo", "type": "quantitative", "title": null, "scale": {"domain": [0, 4], "nice": false, "zero": false}, "axis": {"values": [0, 1, 2, 3, 4], "labelOverlap": false, "format": "d"}}}},
           {"transform": [{"filter": "isValid(datum.hi)"}], "mark": {"type": "tick", "orient": "vertical", "color": "#555", "thickness": 1.2, "size": 7}, "encoding": {"x": {"field": "hi", "type": "quantitative", "title": null, "scale": {"domain": [0, 4], "nice": false, "zero": false}, "axis": {"values": [0, 1, 2, 3, 4], "labelOverlap": false, "format": "d"}}}},
           {"mark": {"type": "square", "color": "black", "filled": true, "opacity": 1, "size": 56}, "encoding": {"x": {"field": "est", "type": "quantitative", "title": null, "scale": {"domain": [0, 4], "nice": false, "zero": false}, "axis": {"values": [0, 1, 2, 3, 4], "labelOverlap": false, "format": "d"}}}}
         ]}
      ]
    },
    {
      "width": 35.3, "height": 1,
      "data": {"values": [{"p": "0.281"}]},
      "layer": [
        {"mark": {"type": "text", "align": "center", "baseline": "middle", "dx": -9.5, "fontSize": 14, "color": "black", "font": "Liberation Serif"}, "encoding": {"text": {"field": "p", "type": "nominal"}}},
        {"mark": {"type": "text", "text": "P", "align": "left", "baseline": "middle", "dx": -40, "dy": -25, "fontSize": 15, "fontWeight": "bold", "fontStyle": "italic", "color": "black", "font": "Liberation Serif"}, "encoding": {}},
        {"mark": {"type": "text", "text": "interaction", "align": "left", "baseline": "middle", "dx": -30, "dy": -20, "fontSize": 9.5, "fontWeight": "bold", "color": "black", "font": "Liberation Serif"}, "encoding": {}}
      ]
    }
  ]
}
